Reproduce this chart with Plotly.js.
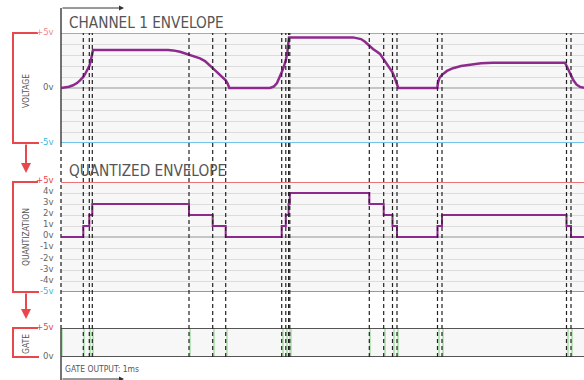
<!DOCTYPE html>
<html>
<head>
<meta charset="utf-8">
<script src="https://cdn.plot.ly/plotly-3.0.1.min.js"></script>
<style>html,body{margin:0;padding:0;background:#fff}#chart{width:584px;height:380px}</style>
</head>
<body>
<div id="chart"></div>
<script>
// ---- data (time in ms, values in volts) ----
const envTime = [0, 2, 4, 6, 8, 9.5, 10.5, 11.15, 12, 13, 14.15, 14.8, 15.3, 15.65, 15.9, 16.0,
  53.5, 56, 59.5, 63, 66, 69.5, 72, 74, 75.85, 78, 80, 81.5, 82.35, 83.3, 84.15,
  104.5, 106.5, 108, 109.5, 110.5, 111.5, 112.5, 113.2, 113.7, 114.0,
  146, 148, 150, 152, 154.15, 156, 158, 159.5, 161.35, 163, 164.5, 165.65, 166.7, 167.6, 168.2, 168.65,
  188.15, 188.5, 189.2, 190.5, 193, 196, 200, 205, 210, 216,
  252, 252.8, 253.8, 255, 256.2, 257.8, 259.5, 261.5];
const envVolts = [0, 0.05, 0.12, 0.25, 0.45, 0.7, 0.88, 1.0, 1.25, 1.6, 2.0, 2.4, 2.75, 3.0, 3.3, 3.45,
  3.45, 3.42, 3.3, 3.1, 2.95, 2.7, 2.45, 2.15, 1.8, 1.45, 1.1, 0.85, 0.7, 0.4, 0.0,
  0.0, 0.15, 0.45, 1.0, 1.5, 2.0, 2.6, 3.3, 4.0, 4.6,
  4.6, 4.55, 4.45, 4.2, 3.8, 3.55, 3.3, 3.1, 2.6, 2.2, 1.8, 1.45, 1.0, 0.6, 0.3, 0.0,
  0.0, 0.5, 0.9, 1.2, 1.55, 1.8, 2.0, 2.15, 2.25, 2.3,
  2.3, 2.0, 1.6, 1.1, 0.7, 0.3, 0.1, 0.03];
const quantTime = [0, 11.15, 14.15, 15.65, 64, 75.85, 82.35, 110.35, 112.4, 113.8, 114.4,
  154.15, 161.35, 165.75, 168, 188.25, 190.5, 252.75, 255, 261.5];
const quantVolts = [0, 1, 2, 3, 2, 1, 0, 1, 2, 3, 4, 3, 2, 1, 0, 1, 2, 1, 0, 0];
const markerTime = [11.15, 14.15, 15.65, 64, 75.85, 82.35, 110.35, 112.4, 113.8, 114.4,
  154.15, 161.35, 165.75, 168, 188.25, 190.5, 252.75, 255];
const gateTime = [0].concat(markerTime);
const gateWidth = 1; // ms
const voltTickVals = [5, 0, -5];
const voltTickText = ['+5v', '0v', '-5v'];
const quantTickVals = [5, 4, 3, 2, 1, 0, -1, -2, -3, -4, -5];
const quantTickText = ['+5v', '4v', '3v', '2v', '1v', '0v', '-1v', '-2v', '-3v', '-4v', '-5v'];
const gateTickVals = [5, 0];
const gateTickText = ['+5v', '0v'];

// ---- layout helpers ----
const W = 584, H = 380;
const px = x => x / W;
const py = y => 1 - y / H;
const FONT = '"Liberation Sans Narrow", "DejaVu Sans Condensed", Roboto, sans-serif';
const RED = '#e8474c', PINK = '#f08a8c', BLUE = '#45b4e6', PURPLE = '#8e2a8e', GRAY = '#666';
const X0 = 61;

const traces = [
  {x: envTime, y: envVolts, xaxis: 'x', yaxis: 'y', type: 'scatter', mode: 'lines',
   line: {color: PURPLE, width: 2.5, shape: 'linear'}, hoverinfo: 'skip'},
  {x: quantTime, y: quantVolts, xaxis: 'x', yaxis: 'y2', type: 'scatter', mode: 'lines',
   line: {color: PURPLE, width: 2, shape: 'hv'}, hoverinfo: 'skip'},
  {x: gateTime.map(t => t + gateWidth / 2), y: gateTime.map(() => 5), base: 0, width: gateWidth,
   xaxis: 'x', yaxis: 'y3', type: 'bar', marker: {color: '#b9e5b9', line: {width: 0}}, hoverinfo: 'skip'}
];

const shapes = [];
function hline(yref, yv, color, width) {
  shapes.push({type: 'line', xref: 'paper', yref: yref, x0: px(X0), x1: 1, y0: yv, y1: yv,
    line: {color: color, width: width}});
}
hline('y', 5, PINK, 2);
hline('y', -5, BLUE, 1.5);
hline('y2', 5, RED, 1.5);
hline('y2', -5, BLUE, 2);
hline('y3', 5, '#555', 2);
hline('y3', 0, '#555', 2);
markerTime.forEach(t => shapes.push({type: 'line', xref: 'x', yref: 'paper', x0: t, x1: t,
  y0: py(357), y1: py(33), line: {color: '#222', width: 1.2, dash: '4px,3px'}}));
shapes.push({type: 'line', xref: 'paper', yref: 'paper', x0: px(X0), x1: px(X0), y0: py(8), y1: py(143), line: {color: '#444', width: 1.5}});
shapes.push({type: 'line', xref: 'paper', yref: 'paper', x0: px(X0), x1: px(X0), y0: py(143), y1: py(328), line: {color: '#444', width: 1.5, dash: '4px,3px'}});
shapes.push({type: 'line', xref: 'paper', yref: 'paper', x0: px(X0), x1: px(X0), y0: py(328), y1: py(381), line: {color: '#444', width: 1.5}});
function bracket(yTop, yBot) {
  shapes.push({type: 'path', xref: 'paper', yref: 'paper',
    path: 'M ' + px(38) + ' ' + py(yTop) + ' L ' + px(13) + ' ' + py(yTop) + ' L ' + px(13) + ' ' + py(yBot) + ' L ' + px(39) + ' ' + py(yBot),
    line: {color: RED, width: 2}});
}
bracket(33, 143);
bracket(182, 292);
bracket(328, 357);

const ann = [];
function label(yref, vals, texts, colorFor) {
  vals.forEach((v, i) => ann.push({xref: 'paper', yref: yref, x: px(56), y: v, text: texts[i],
    xanchor: 'right', yanchor: 'middle', yshift: 2, showarrow: false,
    font: {family: FONT, size: 9.5, color: colorFor(v)}}));
}
label('y', voltTickVals, voltTickText, v => v === 5 ? PINK : (v === -5 ? BLUE : GRAY));
label('y2', quantTickVals, quantTickText, v => v === 5 ? RED : (v === -5 ? BLUE : GRAY));
label('y3', gateTickVals, gateTickText, v => v === 5 ? RED : GRAY);

function text(x, y, t, size, opts) {
  ann.push(Object.assign({xref: 'paper', yref: 'paper', x: px(x), y: py(y), text: t, showarrow: false,
    xanchor: 'left', yanchor: 'middle', font: {family: FONT, size: size, color: '#555'}}, opts || {}));
}
text(67, 23, 'CHANNEL 1 ENVELOPE', 15.2);
text(67, 171, 'QUANTIZED ENVELOPE', 15.2);
text(63, 369, 'GATE OUTPUT: 1ms', 8.5);
text(26, 91, 'VOLTAGE', 8.5, {xanchor: 'center', textangle: -90});
text(26, 237, 'QUANTIZATION', 8.5, {xanchor: 'center', textangle: -90});
text(26, 344, 'GATE', 8.5, {xanchor: 'center', textangle: -90});

function arrow(xh, yh, ax, ay, color, width) {
  ann.push({xref: 'paper', yref: 'paper', x: px(xh), y: py(yh), ax: ax, ay: ay, axref: 'pixel', ayref: 'pixel',
    text: '', showarrow: true, arrowhead: 2, arrowsize: 1, arrowwidth: width, arrowcolor: color});
}
arrow(124, 8, -63, 0, '#333', 1);
arrow(124, 379, -63, 0, '#333', 1);
arrow(26, 173, 0, -30, RED, 2);
arrow(26, 319, 0, -27, RED, 2);

const yBase = {range: [-5, 5], dtick: 1, tick0: 0, showgrid: true, gridcolor: '#dcdcdc', gridwidth: 1,
  zeroline: true, zerolinecolor: '#c6c6c6', zerolinewidth: 2, showticklabels: false, ticks: '', showline: false, fixedrange: true};
const layout = {
  width: W, height: H, margin: {l: 0, r: 0, t: 0, b: 0, pad: 0},
  paper_bgcolor: '#ffffff', plot_bgcolor: '#f7f7f7', showlegend: false,
  xaxis: {domain: [px(X0), 1], range: [0, 261.5], showgrid: false, zeroline: false, showticklabels: false,
    ticks: '', showline: false, fixedrange: true},
  yaxis: Object.assign({domain: [py(143), py(33)]}, yBase),
  yaxis2: Object.assign({domain: [py(292), py(182)]}, yBase),
  yaxis3: {domain: [py(357), py(328)], range: [0, 5], showgrid: false, zeroline: false, showticklabels: false,
    ticks: '', showline: false, fixedrange: true},
  shapes: shapes, annotations: ann, bargap: 0
};
Plotly.newPlot('chart', traces, layout, {displayModeBar: false, staticPlot: true});
</script>
</body>
</html>
